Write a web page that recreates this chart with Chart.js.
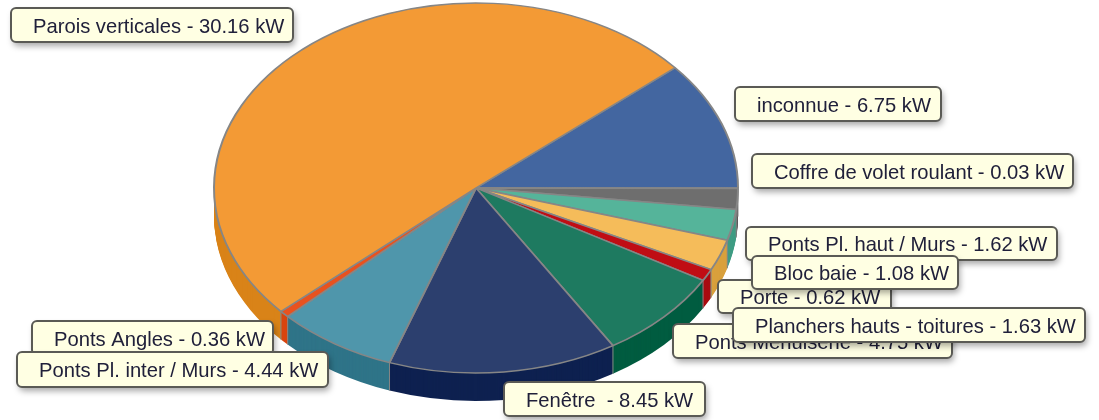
<!DOCTYPE html>
<html>
<head>
<meta charset="utf-8">
<title>Déperditions</title>
<script src="https://cdn.jsdelivr.net/npm/chart.js@4/dist/chart.umd.min.js"></script>
<style>
    html, body { margin: 0; padding: 0; background: #fff; }
    #wrap { width: 1099px; height: 420px; }
</style>
</head>
<body>
<div id="wrap"><canvas id="pieChart"></canvas></div>
<script>
// Slices, clockwise from the top right
const categories = ['inconnue', 'Coffre de volet roulant', 'Bloc baie', 'Ponts Pl. haut / Murs', 'Planchers hauts - toitures', 'Porte', 'Ponts Menuiserie', 'Fenêtre ', 'Ponts Pl. inter / Murs', 'Ponts Angles', 'Parois verticales'];
const values = [6.75, 0.03, 1.08, 1.62, 1.63, 0.62, 4.75, 8.45, 4.44, 0.36, 30.16];
const unit = 'kW';
const topColors = ['#4366a0', '#8a8a8a', '#6e6e6e', '#55b49a', '#f5bc5a', '#c00d14', '#1e7a60', '#2c3f6e', '#4f96ab', '#e8521f', '#f39a35'];
const wallColors = ['#2f4f85', '#707070', '#5a5a5a', '#3f9c84', '#d9a03c', '#a80b10', '#005c40', '#0e2150', '#2f7488', '#d8450f', '#d98318'];

// Label boxes: left, top, right, bottom. The order is the paint order
const labelBoxes = [
    [0, 735, 87, 941, 121],
    [1, 752, 154, 1073, 188],
    [10, 11, 8, 293, 42],
    [9, 32, 321, 273, 355],
    [8, 17, 352, 328, 387],
    [7, 504, 382, 705, 416],
    [3, 746, 227, 1057, 260],
    [5, 718, 280, 891, 313],
    [2, 752, 256, 958, 289],
    [6, 673, 324, 952, 358],
    [4, 733, 308, 1085, 342]
];

const pieCenterX = 476;
const pieCenterY = 188;
const pieRadiusX = 262;
const pieRadiusY = 185;
const pieDepth = 28;
const edgeColor = '#868686';

const total = values.reduce((a, b) => a + b, 0);

function applyPieTransform(ctx, arc, offsetY) {
    ctx.translate(arc.x, arc.y + offsetY);
    ctx.scale(pieRadiusX / arc.outerRadius, pieRadiusY / arc.outerRadius);
    ctx.translate(-arc.x, -arc.y);
}

// Squash the round pie into an ellipse and put a side wall under it
const tiltPlugin = {
    id: 'tilt',
    beforeDatasetsDraw(chart) {
        const ctx = chart.ctx;
        const arcs = chart.getDatasetMeta(0).data;

        for (let d = pieDepth; d >= 1; d--) {
            ctx.save();
            applyPieTransform(ctx, arcs[0], d);
            arcs.forEach((arc, i) => {
                const saved = arc.options;
                arc.options = Object.assign(Object.create(saved), {
                    backgroundColor: wallColors[i],
                    borderColor: wallColors[i],
                    borderWidth: 0
                });
                arc.draw(ctx);
                arc.options = saved;
            });
            ctx.restore();
        }

        // seams between the wall pieces
        ctx.save();
        ctx.strokeStyle = edgeColor;
        ctx.lineWidth = 1;
        arcs.forEach(arc => {
            const a = arc.startAngle;
            if (Math.sin(a) <= 0) return;
            const x = arc.x + pieRadiusX * Math.cos(a);
            const y = arc.y + pieRadiusY * Math.sin(a);
            ctx.beginPath();
            ctx.moveTo(x, y);
            ctx.lineTo(x, y + pieDepth);
            ctx.stroke();
        });
        ctx.restore();

        ctx.save();
        applyPieTransform(ctx, arcs[0], 0);
    },
    afterDatasetsDraw(chart) {
        chart.ctx.restore();
    }
};

// Boxed labels, painted over the pie
const labelPlugin = {
    id: 'boxLabels',
    afterDraw(chart) {
        const ctx = chart.ctx;
        labelBoxes.forEach(([i, left, top, right, bottom]) => {
            ctx.save();
            ctx.beginPath();
            ctx.roundRect(left, top, right - left, bottom - top, 5);
            ctx.shadowColor = 'rgba(0, 0, 0, 0.35)';
            ctx.shadowBlur = 6;
            ctx.shadowOffsetX = 2;
            ctx.shadowOffsetY = 4;
            ctx.fillStyle = '#ffffe3';
            ctx.fill();
            ctx.shadowColor = 'transparent';
            ctx.strokeStyle = '#5a5a55';
            ctx.lineWidth = 2;
            ctx.stroke();
            ctx.fillStyle = '#20203a';
            ctx.font = '20.2px "Liberation Sans"';
            ctx.textBaseline = 'middle';
            ctx.fillText(categories[i] + ' - ' + values[i].toFixed(2) + ' ' + unit, left + 22, (top + bottom) / 2 + 2);
            ctx.restore();
        });
    }
};

const pieCtx = document.getElementById('pieChart').getContext('2d');
new Chart(pieCtx, {
    type: 'pie',
    data: {
        labels: categories,
        datasets: [{
            data: values,
            backgroundColor: topColors,
            borderColor: edgeColor,
            borderWidth: 1.4,
            clip: false
        }]
    },
    options: {
        responsive: true,
        maintainAspectRatio: false,
        animation: false,
        // first slice ends on the horizontal, right of the centre
        rotation: 90 - values[0] / total * 360,
        layout: {
            padding: {
                left: pieCenterX - pieRadiusY,
                right: 1099 - pieCenterX - pieRadiusY,
                top: pieCenterY - pieRadiusY,
                bottom: 420 - pieCenterY - pieRadiusY
            }
        },
        plugins: {
            legend: { display: false },
            tooltip: { enabled: false }
        }
    },
    plugins: [tiltPlugin, labelPlugin]
});
</script>
</body>
</html>
